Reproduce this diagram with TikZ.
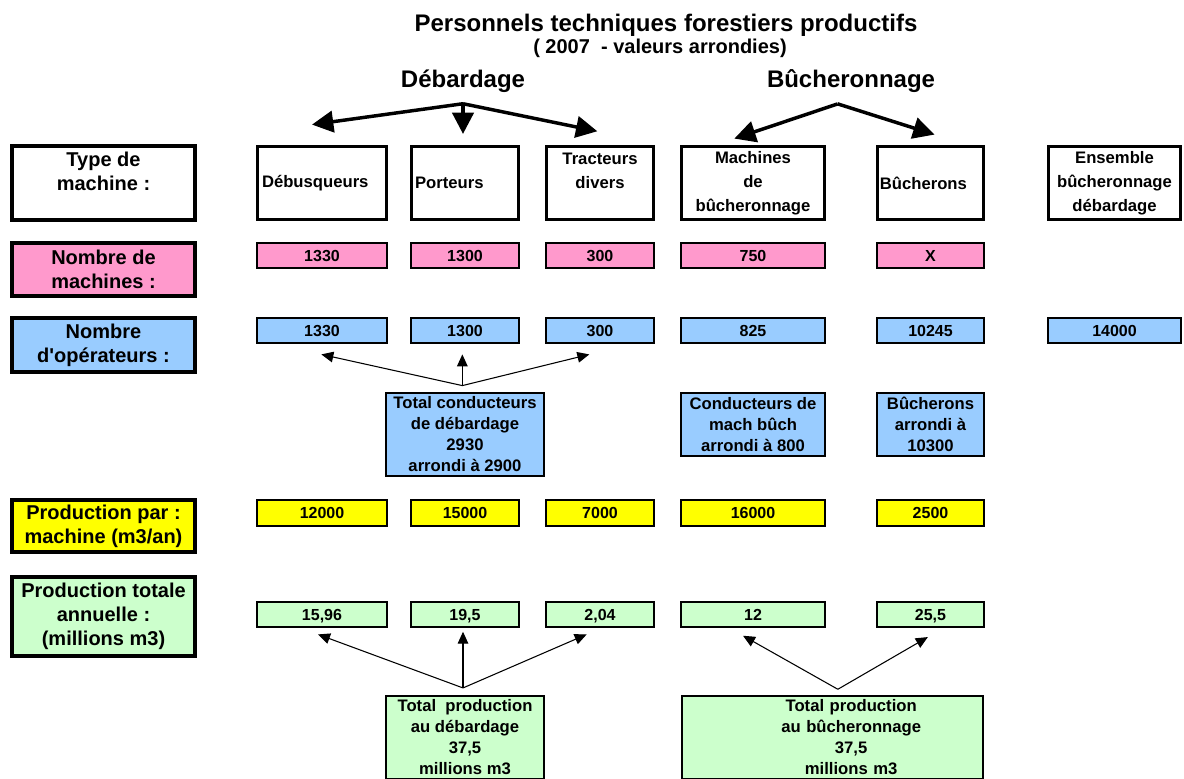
\documentclass[tikz,border=0pt]{standalone}
\usepackage{fontspec}
\setmainfont{Liberation Sans}
\usetikzlibrary{arrows.meta}

\definecolor{rose}{HTML}{FF99CC}
\definecolor{bleu}{HTML}{99CCFF}
\definecolor{jaune}{HTML}{FFFF00}
\definecolor{vert}{HTML}{CCFFCC}

\begin{document}
\begin{tikzpicture}[x=0.75pt, y=-0.75pt,
	cell/.style 2 args={minimum width=#1*0.75pt-2pt, minimum height=#2*0.75pt-2pt},
	lbl/.style={draw, line width=3pt, align=center, inner sep=0pt, font=\fontsize{15}{18}\selectfont\bfseries},
	hdr/.style={draw, line width=2.6pt, align=center, inner sep=0pt, font=\fontsize{12.5}{18}\selectfont\bfseries},
	val/.style={draw, line width=1.6pt, inner sep=0pt, text depth=0pt, font=\fontsize{12}{14}\selectfont\bfseries},
	tot/.style={draw, line width=1.6pt, align=center, inner sep=0pt, font=\fontsize{12.5}{15.75}\selectfont\bfseries},
	big/.style={line width=2.6pt, -{Triangle[length=16pt, width=16pt]}},
	fin/.style={line width=0.8pt, -{Triangle[length=9pt, width=8pt]}}]
	\path[use as bounding box, clip] (0,0) rectangle (1184,778);

	% titres
	\node[font=\fontsize{18}{22}\selectfont\bfseries] (titre) at (666,25) {Personnels techniques forestiers productifs};
	\node[font=\fontsize{15}{18}\selectfont\bfseries] (sous) at (660,48) {( 2007 \ - valeurs arrondies)};
	\node[font=\fontsize{18}{22}\selectfont\bfseries] (deb) at (463,81) {Débardage};
	\node[font=\fontsize{18}{22}\selectfont\bfseries] (buch) at (851,81) {Bûcheronnage};

	% type de machine
	\node[lbl, cell={185}{76}] (type) at (103.5,183) {Type de\\machine :\\\mbox{}};
	\node[hdr, cell={132}{76}, text width=90pt, align=left] (debus) at (322,183) {Débusqueurs};
	\node[hdr, cell={110}{76}, text width=75pt, align=left] (port) at (465,183) {Porteurs};
	\node[hdr, cell={110}{76}] (tract) at (600,183) {Tracteurs\\divers\\\mbox{}};
	\node[hdr, cell={146}{76}] (mach) at (753,183) {Machines\\de\\bûcheronnage};
	\node[hdr, cell={109}{76}, text width=76pt, align=left] (bucher) at (930.5,183) {Bûcherons};
	\node[hdr, cell={135}{76}] (ens) at (1114.5,183) {Ensemble\\bûcheronnage\\débardage};

	\draw[big] ([yshift=-5pt]deb.south) -- ([xshift=-7.5pt, yshift=15pt]debus.north);
	\draw[big] ([yshift=-5pt]deb.south) -- ([xshift=-1.5pt, yshift=8pt]port.north);
	\draw[big] ([yshift=-5pt]deb.south) -- ([xshift=-2pt, yshift=10pt]tract.north);
	\draw[big] ([xshift=-10pt, yshift=-5pt]buch.south) -- ([xshift=-14pt, yshift=4.5pt]mach.north);
	\draw[big] ([xshift=-10pt, yshift=-5pt]buch.south) -- ([xshift=3pt, yshift=7.5pt]bucher.north);

	% nombre de machines
	\node[lbl, fill=rose, cell={185}{55}] (nbm) at (103.5,269.5) {Nombre de\\machines :};
	\node[val, fill=rose, cell={132}{27}] (m1) at (322,255.5) {1330};
	\node[val, fill=rose, cell={110}{27}] (m2) at (465,255.5) {1300};
	\node[val, fill=rose, cell={110}{27}] (m3) at (600,255.5) {300};
	\node[val, fill=rose, cell={146}{27}] (m4) at (753,255.5) {750};
	\node[val, fill=rose, cell={109}{27}] (m5) at (930.5,255.5) {X};

	% nombre d'operateurs
	\node[lbl, fill=bleu, cell={185}{56}] (nbo) at (103.5,345) {Nombre\\d\textquotesingle opérateurs :};
	\node[val, fill=bleu, cell={132}{27}] (o1) at (322,330.5) {1330};
	\node[val, fill=bleu, cell={110}{27}] (o2) at (465,330.5) {1300};
	\node[val, fill=bleu, cell={110}{27}] (o3) at (600,330.5) {300};
	\node[val, fill=bleu, cell={146}{27}] (o4) at (753,330.5) {825};
	\node[val, fill=bleu, cell={109}{27}] (o5) at (930.5,330.5) {10245};
	\node[val, fill=bleu, cell={135}{27}] (o6) at (1114.5,330.5) {14000};

	\node[tot, fill=bleu, cell={160}{85}] (tcond) at (465,434.5) {Total conducteurs\\de débardage\\2930\\arrondi à 2900};
	\node[tot, fill=bleu, cell={146}{65}] (tmach) at (753,424.5) {Conducteurs de\\mach bûch\\arrondi à 800};
	\node[tot, fill=bleu, cell={109}{65}] (tbuch) at (930.5,424.5) {Bûcherons\\arrondi à\\10300};

	\draw[fin] ([xshift=-2pt, yshift=5pt]tcond.north) -- ([xshift=-0.5pt, yshift=-8pt]o1.south);
	\draw[fin] ([xshift=-2pt, yshift=5pt]tcond.north) -- ([xshift=-2pt, yshift=-8pt]o2.south);
	\draw[fin] ([xshift=-2pt, yshift=5pt]tcond.north) -- ([xshift=-8pt, yshift=-8pt]o3.south);

	% production par machine
	\node[lbl, fill=jaune, cell={185}{54}] (prm) at (103.5,526) {Production par :\\machine (m3/an)};
	\node[val, fill=jaune, cell={132}{28}] (p1) at (322,513) {12000};
	\node[val, fill=jaune, cell={110}{28}] (p2) at (465,513) {15000};
	\node[val, fill=jaune, cell={110}{28}] (p3) at (600,513) {7000};
	\node[val, fill=jaune, cell={146}{28}] (p4) at (753,513) {16000};
	\node[val, fill=jaune, cell={109}{28}] (p5) at (930.5,513) {2500};

	% production totale
	\node[lbl, fill=vert, cell={185}{81}] (prt) at (103.5,616.5) {Production totale\\annuelle :\\(millions m3)};
	\node[val, fill=vert, cell={132}{27}] (t1) at (322,614.5) {15,96};
	\node[val, fill=vert, cell={110}{27}] (t2) at (465,614.5) {19,5};
	\node[val, fill=vert, cell={110}{27}] (t3) at (600,614.5) {2,04};
	\node[val, fill=vert, cell={146}{27}] (t4) at (753,614.5) {12};
	\node[val, fill=vert, cell={109}{27}] (t5) at (930.5,614.5) {25,5};

	\node[tot, fill=vert, cell={160}{85}] (tpdeb) at (465,737.5) {Total \ production\\au débardage\\37,5\\millions m3};
	\node[tot, fill=vert, cell={303}{85}, text width=200pt] (tpbuch) at (832.5,737.5) {\hspace*{28pt}Total production\\\hspace*{28pt}au bûcheronnage\\\hspace*{28pt}37,5\\\hspace*{28pt}millions m3};

	\draw[fin] ([xshift=-1.5pt, yshift=5.5pt]tpdeb.north) -- ([xshift=-3pt, yshift=-5pt]t1.south);
	\draw[fin] ([xshift=-1.5pt, yshift=5.5pt]tpdeb.north) -- ([xshift=-1.5pt, yshift=-3pt]t2.south);
	\draw[fin] ([xshift=-1.5pt, yshift=5.5pt]tpdeb.north) -- ([xshift=-10pt, yshift=-5pt]t3.south);
	\draw[fin] ([xshift=4pt, yshift=4.5pt]tpbuch.north) -- ([xshift=-7.5pt, yshift=-6pt]t4.south);
	\draw[fin] ([xshift=4pt, yshift=4.5pt]tpbuch.north) -- ([xshift=-2pt, yshift=-7pt]t5.south);
\end{tikzpicture}
\end{document}
